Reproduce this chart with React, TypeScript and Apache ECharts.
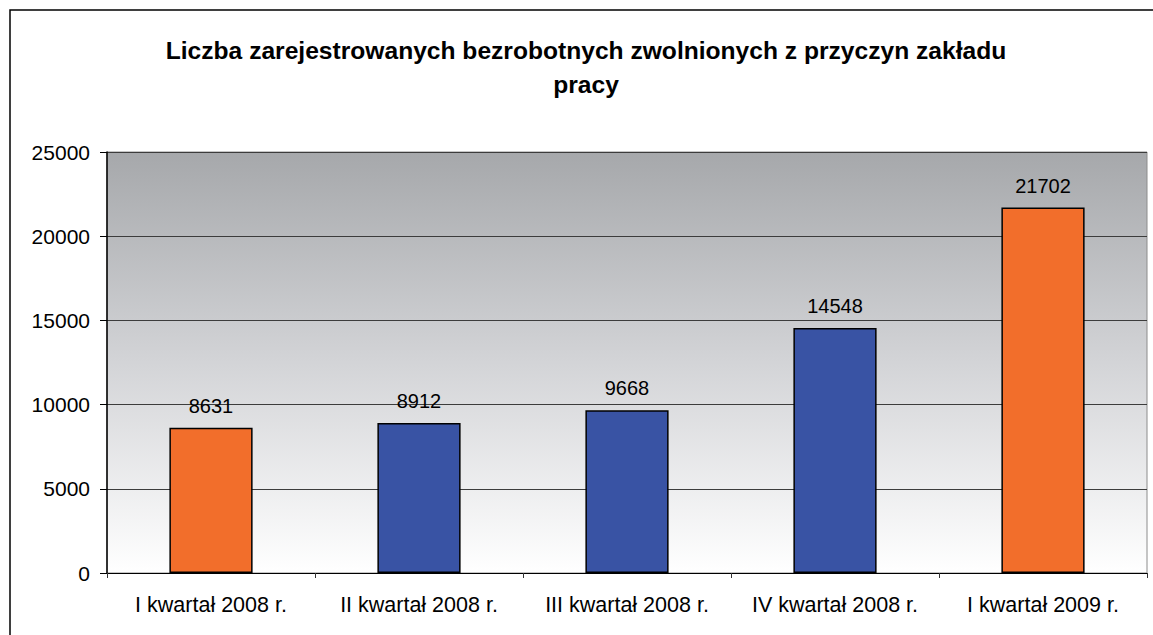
import React, { useEffect, useRef } from "react";
import * as echarts from "echarts";

const categories = [
  "I kwartał 2008 r.",
  "II kwartał 2008 r.",
  "III kwartał 2008 r.",
  "IV kwartał 2008 r.",
  "I kwartał 2009 r.",
];
const values = [8631, 8912, 9668, 14548, 21702];
const barColors = ["#f26e2b", "#3953a4", "#3953a4", "#3953a4", "#f26e2b"];
const titleText = "Liczba zarejestrowanych bezrobotnych zwolnionych z przyczyn zakładu\npracy";

export default function App() {
  const ref = useRef<HTMLDivElement>(null);
  useEffect(() => {
    if (!ref.current) return;
    const chart = echarts.init(ref.current, null, { renderer: "svg" });
    const font = "Liberation Sans, Arial, sans-serif";
    chart.setOption({
      animation: false,
      backgroundColor: "#ffffff",
      title: {
        text: titleText,
        left: 581,
        textAlign: "center",
        top: 28,
        textStyle: {
          fontFamily: font,
          fontSize: 24.6,
          fontWeight: "bold",
          color: "#000",
          lineHeight: 34,
        },
      },
      graphic: [
        {
          type: "rect",
          shape: { x: 10, y: 10, width: 1160, height: 660 },
          style: { fill: "none", stroke: "#000", lineWidth: 1.5 },
          silent: true,
        },
      ],
      grid: {
        left: 107,
        top: 152,
        width: 1040,
        height: 421,
        show: true,
        borderColor: "#8c8c8c",
        borderWidth: 1,
        backgroundColor: new echarts.graphic.LinearGradient(0, 0, 0, 1, [
          { offset: 0, color: "#a6a8ab" },
          { offset: 0.5, color: "#d3d4d7" },
          { offset: 1, color: "#ffffff" },
        ]),
      },
      xAxis: {
        type: "category",
        data: categories,
        axisLine: { lineStyle: { color: "#000", width: 1 } },
        axisTick: { show: true, length: 5, lineStyle: { color: "#333" } },
        axisLabel: {
          interval: 0,
          fontFamily: font,
          fontSize: 21.5,
          color: "#000",
          margin: 21,
        },
      },
      yAxis: {
        type: "value",
        min: 0,
        max: 25000,
        interval: 5000,
        axisLine: { show: true, lineStyle: { color: "#000", width: 1.5 } },
        axisTick: { show: true, length: 7, lineStyle: { color: "#000" } },
        splitLine: { lineStyle: { color: "#3c3c3c", width: 1 } },
        axisLabel: {
          fontFamily: font,
          fontSize: 21,
          color: "#000",
          margin: 17,
          formatter: (v: number) => String(v),
        },
      },
      series: [
        {
          type: "bar",
          barWidth: "40%",
          data: values.map((v, i) => ({
            value: v,
            itemStyle: { color: barColors[i] },
          })),
          itemStyle: { borderColor: "#000", borderWidth: 1.5 },
          label: {
            show: true,
            position: "top",
            distance: 12,
            fontFamily: font,
            fontSize: 20,
            color: "#000",
          },
        },
      ],
    });
    return () => chart.dispose();
  }, []);
  return (
    <div
      ref={ref}
      style={{ position: "absolute", left: 0, top: 0, width: 1153, height: 635 }}
    />
  );
}
